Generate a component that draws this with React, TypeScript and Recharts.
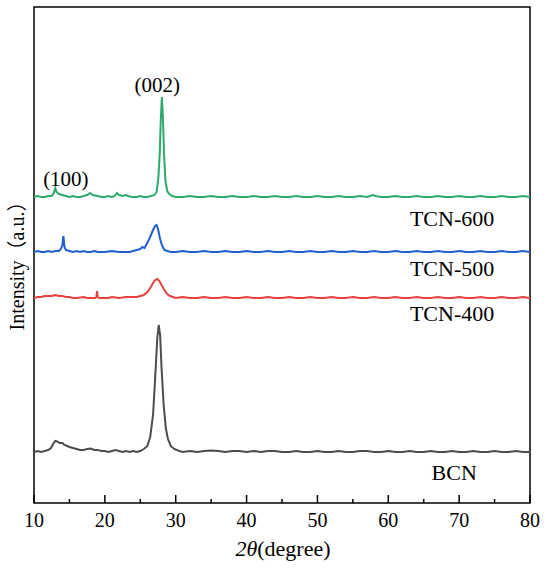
import React from 'react';
import { LineChart, Line, XAxis, YAxis, ReferenceArea, ReferenceLine, ReferenceDot, Customized } from 'recharts';

const FONT = "'Liberation Serif', 'Times New Roman', 'Noto Sans CJK SC', serif";

// 2θ (degree), intensity in plot units (stacked, offset included)
const bcnData: [number, number][] = [
  [10, 51], [10.5, 52], [11, 51], [11.5, 52], [12, 53], [12.4, 55], [12.7, 59], [13.0, 62], [13.3, 61.5], [13.6, 60],
  [14.0, 60], [14.3, 58], [14.7, 57], [15, 56], [15.5, 55], [16, 54], [16.5, 53], [17, 53], [17.5, 54], [18, 54.5], [18.5, 53],
  [19, 53], [19.5, 52], [20, 52], [20.5, 51], [21, 52], [21.5, 53], [22, 52], [22.5, 51], [23, 52], [23.5, 51],
  [24, 52], [24.5, 51], [25, 52], [25.5, 54], [26, 57], [26.4, 66], [26.8, 88], [27.1, 125], [27.4, 165], [27.6, 178],
  [27.8, 168], [28.0, 135], [28.3, 98], [28.6, 75], [28.9, 64], [29.3, 57], [29.8, 54], [30.5, 52], [31, 51], [32, 52],
  [33, 51], [34, 52], [35, 52.5], [36, 52], [37, 51], [38, 52], [39, 52], [40, 51], [41, 52], [42, 51],
  [43, 52], [44, 52], [45, 51], [46, 51], [47, 52], [48, 51], [49, 51], [50, 52], [51, 51], [52, 51],
  [53, 52], [54, 51], [55, 51], [56, 52], [57, 52], [58, 51], [59, 51], [60, 52], [61, 51], [62, 51],
  [63, 52], [64, 51], [65, 51], [66, 52], [67, 51], [68, 51], [69, 52], [70, 51], [71, 51], [72, 52],
  [73, 51], [74, 51], [75, 52], [76, 51], [77, 51], [78, 52], [79, 51], [80, 51],
];

const tcn400Data: [number, number][] = [
  [10, 205], [10.5, 206], [11, 206], [11.5, 207], [12, 207], [12.5, 207], [13, 208], [13.5, 207], [14, 207], [14.5, 206],
  [15, 206], [15.5, 205], [16, 205], [17, 206], [17.5, 205], [18, 205], [18.6, 205], [18.8, 206], [18.9, 212], [19.0, 206],
  [19.2, 205], [20, 205], [20.5, 205], [21, 206], [22, 205], [23, 206], [24, 206], [24.5, 206], [25, 207], [25.5, 208],
  [26, 211], [26.4, 215], [26.8, 220], [27.1, 223], [27.4, 224], [27.7, 222], [28, 218], [28.4, 213], [28.8, 209], [29.2, 207],
  [29.6, 206], [30, 205], [31, 206], [32, 205], [33, 205], [34, 206], [35, 205], [36, 205], [37, 206], [38, 205],
  [39, 205], [40, 206], [41, 205], [42, 205], [43, 206], [44, 205], [45, 205], [46, 206], [47, 205], [48, 205],
  [49, 206], [50, 205], [51, 205], [52, 206], [53, 205], [54, 205], [55, 206], [56, 205], [57, 205], [58, 206],
  [59, 205], [60, 205], [61, 206], [62, 205], [63, 205], [64, 206], [65, 205], [66, 205], [67, 206], [68, 205],
  [69, 205], [70, 206], [71, 205], [72, 205], [73, 206], [74, 205], [75, 205], [76, 206], [77, 205], [78, 205],
  [79, 206], [80, 205],
];

const tcn500Data: [number, number][] = [
  [10, 251], [10.5, 252], [11, 251], [11.5, 251], [12, 252], [12.5, 251], [13, 252], [13.5, 252], [13.8, 254], [14.0, 258],
  [14.15, 267], [14.3, 256], [14.5, 253], [15, 252], [15.5, 251], [16, 252], [16.5, 251], [17, 252], [17.5, 251], [18, 251],
  [18.5, 252], [19, 251], [20, 251], [21, 252], [22, 251], [23, 251], [23.5, 251], [24, 252], [24.5, 253], [25, 254],
  [25.3, 256], [25.6, 255], [25.9, 259], [26.2, 263], [26.5, 268], [26.8, 273], [27.1, 277], [27.3, 278], [27.5, 274], [27.8, 264],
  [28.1, 257], [28.4, 253], [28.8, 252], [29.3, 251], [30, 251], [31, 252], [32, 251], [33, 251], [34, 252], [35, 251],
  [36, 251], [37, 252], [38, 251], [39, 251], [40, 252], [41, 251], [42, 251], [43, 252], [44, 251], [45, 251],
  [46, 252], [47, 251], [48, 251], [49, 252], [50, 251], [51, 251], [52, 252], [53, 251], [54, 251], [55, 252],
  [56, 251], [57, 251], [58, 252], [59, 251], [60, 251], [61, 252], [62, 251], [63, 251], [64, 252], [65, 251],
  [66, 251], [67, 252], [68, 251], [69, 251], [70, 252], [71, 251], [72, 251], [73, 252], [74, 251], [75, 251],
  [76, 252], [77, 251], [78, 251], [79, 252], [80, 251],
];

const tcn600Data: [number, number][] = [
  [10, 306], [10.5, 307], [11, 306], [11.5, 306], [12, 307], [12.5, 307], [12.8, 310], [13.0, 315], [13.2, 311], [13.5, 309],
  [14, 308], [14.5, 307], [15, 306], [15.5, 307], [16, 306], [16.5, 306], [17, 307], [17.5, 308], [17.9, 310], [18.3, 308],
  [19, 307], [19.5, 306], [20, 306], [20.5, 307], [21, 306], [21.4, 307], [21.7, 310], [22, 308], [22.5, 307], [23, 308],
  [23.3, 307], [23.8, 306], [24.5, 306], [25, 307], [25.5, 306], [26, 306], [26.5, 307], [27, 308], [27.3, 311], [27.55, 325],
  [27.75, 350], [27.9, 385], [28.05, 406], [28.2, 385], [28.35, 350], [28.55, 322], [28.8, 312], [29.1, 309], [29.5, 307], [30, 306],
  [31, 306], [32, 307], [33, 306], [34, 306], [35, 307], [36, 306], [37, 306], [38, 307], [39, 306], [40, 306],
  [41, 307], [42, 306], [43, 306], [44, 307], [45, 306], [46, 306], [47, 307], [48, 306], [49, 306], [50, 307],
  [51, 306], [52, 306], [53, 307], [54, 306], [55, 306], [56, 307], [57, 306], [57.8, 308], [58.2, 307], [59, 306],
  [60, 306], [61, 307], [62, 306], [63, 306], [64, 307], [65, 306], [66, 306], [67, 307], [68, 306], [69, 306],
  [70, 307], [71, 306], [72, 306], [73, 307], [74, 306], [75, 306], [76, 307], [77, 306], [78, 306], [79, 307],
  [80, 306],
];

const majorTicks = [10, 20, 30, 40, 50, 60, 70, 80];
const minorTicks = [15, 25, 35, 45, 55, 65, 75];

const seriesLabels: { text: string; x: number; y: number }[] = [
  { text: 'TCN-600', x: 69.0, y: 285 },
  { text: 'TCN-500', x: 69.0, y: 235 },
  { text: 'TCN-400', x: 69.0, y: 190 },
  { text: 'BCN', x: 69.3, y: 31 },
];

const peakLabels: { text: string; x: number; y: number }[] = [
  { text: '(002)', x: 27.4, y: 418 },
  { text: '(100)', x: 14.5, y: 324 },
];

const toObjs = (d: [number, number][]) => d.map(([x, y]) => ({ x, y }));

const AxisTitles = () => (
  <g>
    <text x={283} y={556} textAnchor="middle" fontFamily={FONT} fontSize={22} fill="#000">
      <tspan fontStyle="italic">2θ</tspan>
      <tspan>(degree)</tspan>
    </text>
    <text
      x={24}
      y={261}
      textAnchor="middle"
      fontFamily={FONT}
      fontSize={20}
      fill="#000"
      transform="rotate(-90, 24, 261)"
    >
      Intensity（a.u.）
    </text>
  </g>
);

export default function App() {
  return (
    <div style={{ position: 'absolute', left: 0, top: 0, width: 550, height: 568, background: '#fff' }}>
      <LineChart width={550} height={568} margin={{ top: 7, right: 20, left: 34, bottom: 0 }}>
        <XAxis
          type="number"
          dataKey="x"
          domain={[10, 80]}
          ticks={majorTicks}
          allowDataOverflow
          height={65}
          axisLine={false}
          tickLine={false}
          tickSize={6}
          tickMargin={4}
          tick={{ fill: '#000', fontSize: 20, fontFamily: FONT }}
        />
        <YAxis type="number" domain={[0, 496]} hide allowDataOverflow />
        <ReferenceArea x1={10} x2={80} y1={0} y2={496} fill="none" stroke="#000" strokeWidth={1.5} />
        {majorTicks.map((t) => (
          <ReferenceLine key={'M' + t} segment={[{ x: t, y: 0 }, { x: t, y: 8 }]} stroke="#000" strokeWidth={1.5} />
        ))}
        {minorTicks.map((t) => (
          <ReferenceLine key={'m' + t} segment={[{ x: t, y: 0 }, { x: t, y: 4 }]} stroke="#000" strokeWidth={1.5} />
        ))}
        <Line data={toObjs(bcnData)} dataKey="y" stroke="#4d4d4d" strokeWidth={2} dot={false} isAnimationActive={false} />
        <Line data={toObjs(tcn400Data)} dataKey="y" stroke="#e8403f" strokeWidth={2} dot={false} isAnimationActive={false} />
        <Line data={toObjs(tcn500Data)} dataKey="y" stroke="#1f5fcf" strokeWidth={2} dot={false} isAnimationActive={false} />
        <Line data={toObjs(tcn600Data)} dataKey="y" stroke="#2eaa6a" strokeWidth={2} dot={false} isAnimationActive={false} />
        {[...seriesLabels, ...peakLabels].map((l) => (
          <ReferenceDot
            key={l.text}
            x={l.x}
            y={l.y}
            r={0}
            fill="none"
            stroke="none"
            label={{ value: l.text, position: 'center', fontSize: seriesLabels.includes(l) ? 22 : 21, fill: '#000', fontFamily: FONT }}
          />
        ))}
        <Customized component={<AxisTitles />} />
      </LineChart>
    </div>
  );
}
